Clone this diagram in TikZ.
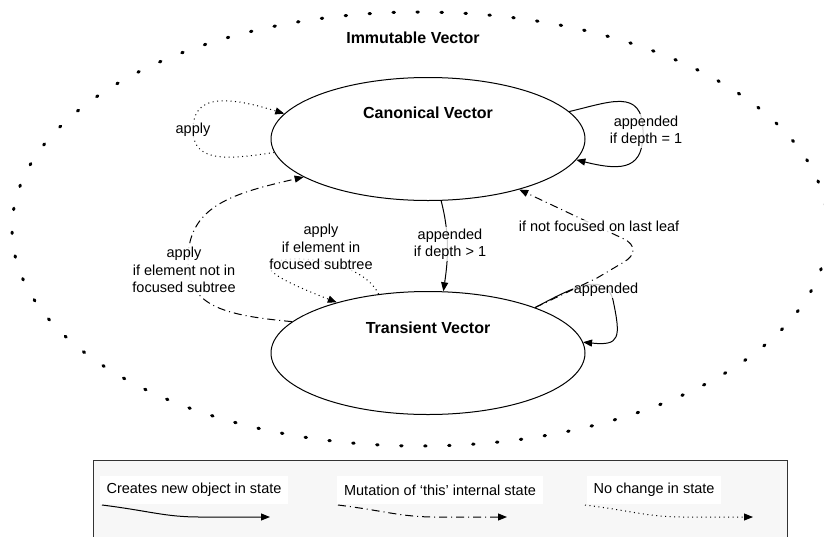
\documentclass[tikz,border=0pt]{standalone}
\usepackage{fontspec}
\setmainfont{Liberation Sans}
\usetikzlibrary{arrows.meta,shapes.geometric}
\begin{document}
\begin{tikzpicture}[x=1pt,y=-1pt,
  state/.style={draw,line width=1pt,ellipse,minimum width=314pt,minimum height=123pt,inner sep=0pt},
  title/.style={font=\fontsize{16}{19}\selectfont\bfseries,inner sep=1pt},
  lbl/.style={font=\fontsize{14.5}{17.5}\selectfont,align=center,fill=white,fill opacity=0.8,text opacity=1,inner sep=1pt},
  edge/.style={line width=1pt,-{Triangle[length=9pt,width=7pt]}},
  creates/.style={edge},
  mutates/.style={edge,dash pattern=on 8pt off 4pt on 1pt off 4pt},
  nochange/.style={edge,dash pattern=on 1pt off 3.5pt},
  legtext/.style={font=\fontsize{14.5}{17.5}\selectfont,fill=white,minimum height=28pt,inner xsep=7pt,inner ysep=0pt}
]
\clip (0,0) rectangle (824,536);
\fill[white] (0,0) rectangle (824,536);

% outer immutable ellipse
\draw[line width=3pt,line cap=round,dash pattern=on 1.5pt off 22.5pt] (420,229) ellipse [x radius=408pt,y radius=217pt];
\node[title] (imm) at (413,38) {Immutable Vector};

% states
\node[state] (can) at (428,139) {};
\node[state] (tra) at (428,353) {};
\node[title] (canlbl) at (428,113) {Canonical Vector};
\node[title] (tralbl) at (428,328) {Transient Vector};

% apply loop on canonical (no change)
\draw[nochange] (can.185) .. controls (225,160) and (193,162) .. (193,130)
   .. controls (193,100) and (215,92) .. (can.170);
\node[lbl] (l1) at (193,130) {apply};

% appended if depth = 1 (creates)
\draw[creates] (can.11) .. controls (610,102) and (642,88) .. (643,130)
   .. controls (644,168) and (625,172) .. (can.352);
\node[lbl] (l2) at (646,131) {appended\\if depth = 1};

% appended if depth > 1 (creates)
\draw[creates] (can.282) .. controls (450,235) and (448,260) .. (tra.76);
\node[lbl] (l3) at (450,244) {appended\\if depth > 1};

% apply if element not in focused subtree (mutation)
\draw[mutates] (tra.167) .. controls (220,315) and (188,305) .. (188,260)
   .. controls (188,205) and (235,193) .. (can.197);
\node[lbl] (l4) at (184,270) {apply\\if element not in\\focused subtree};

% apply if element in focused subtree (no change)
\draw[nochange] (tra.130) .. controls (360,255) and (268,252) .. (270,268)
   .. controls (272,276) and (300,288) .. (tra.151);
\node[lbl] (l5) at (321,247) {apply\\if element in\\focused subtree};

% appended loop on transient (creates)
\draw[creates] (tra.23) .. controls (565,292) and (605,268) .. (613,300)
   .. controls (621,338) and (620,346) .. (tra.4);
\node[lbl] (l6) at (606,290) {appended};

% if not focused on last leaf (mutation)
\coordinate (nf1) at (597,278);
\draw[mutates] (tra.23) -- (nf1) -- (624,262) .. controls (636,255) and (636,245) .. (624,239) -- (can.331);
\node[lbl] (l7) at (599,226) {if not focused on last leaf};

% legend
\draw[draw=black!80,fill=black!3,line width=1pt] (93,460) rectangle (787,545);
\node[legtext] (t1) at (194,490) {Creates new object in state};
\node[legtext] (t2) at (440,490) {Mutation of ‘this’ internal state};
\node[legtext] (t3) at (654,490) {No change in state};
\coordinate (a1) at (102,505); \coordinate (b1) at (270,517);
\coordinate (a2) at (338,505); \coordinate (b2) at (507,517);
\coordinate (a3) at (585,505); \coordinate (b3) at (753,517);
\draw[creates] (a1) .. controls (150,511) and (165,517) .. (200,517) -- (b1);
\draw[mutates] (a2) .. controls (386,511) and (401,517) .. (436,517) -- (b2);
\draw[nochange] (a3) .. controls (633,511) and (648,517) .. (683,517) -- (b3);
\end{tikzpicture}
\end{document}
